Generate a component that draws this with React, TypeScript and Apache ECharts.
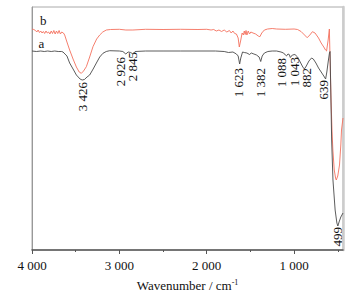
import React, { useEffect, useRef } from "react";
import * as echarts from "echarts";

// Wavenumber (cm-1) and transmittance (a.u.)
const waveA = [4000,3950,3900,3860,3820,3780,3740,3700,3660,3645,3600,3569,3530,3492,3450,3426,3400,3370,3340,3300,3263,3225,3188,3150,3111,3000,2960,2926,2900,2870,2845,2820,2700,2500,2300,2100,1900,1800,1750,1700,1660,1640,1623,1610,1590,1570,1540,1510,1490,1460,1430,1400,1382,1365,1340,1300,1250,1200,1150,1120,1100,1088,1070,1055,1043,1020,990,960,930,900,882,860,830,800,780,750,720,690,660,639,625,610,595,588,580,570,555,530,510,499,485,465,440];
const transA = [199,198.5,199,198.5,199,198.5,199,198.5,198.5,198,194,187,181,175,171,170,170.5,173,175,181,187,193,196.7,198.5,199.3,199,198.5,196,198,197.5,196,198.5,199,199,199,199,199,198.5,197.5,198,196,194,186,192,198,197.5,197,195.5,197,196,195,193,188.5,194,197,198.5,199,199,198,197,195,194,196,195.5,192.5,195,195.5,193,188,183,181,184,189,192,191,187,182,178,174,171,178,188,197,198.5,160,110,70,40,27,24,28,33,37];

const waveB = [4000,3980,3960,3945,3930,3915,3900,3885,3870,3855,3840,3825,3810,3795,3780,3765,3750,3735,3720,3705,3690,3675,3660,3640,3626,3600,3569,3530,3492,3460,3435,3410,3378,3340,3302,3260,3225,3190,3149,3100,3000,2926,2845,2700,2500,2300,2100,2000,1950,1920,1890,1860,1830,1800,1770,1740,1720,1700,1680,1660,1640,1627,1610,1595,1580,1570,1560,1550,1540,1525,1510,1495,1470,1440,1410,1391,1370,1340,1303,1250,1200,1100,1000,960,920,880,850,820,790,760,720,690,660,640,628,610,596,588,577,566,556,540,525,517,500,480,465,457,440];
const transB = [221,220.5,219.5,218,220,217.5,219,217,218.5,216.5,219,217,218,216,219,216.5,219.5,216,219,216.5,219.5,216,218,217,215,208,200,191,183,178,176.7,179,183.3,193,203.3,211,215,218,220,220.5,220.7,220,220,220.7,220.5,220.7,220.5,220.7,220,220.5,219,220,218.5,220,218,219.5,217,219,216.5,216,212,203,210,217,215,219,215.5,219.5,215,219,216,218,217,216,214,213.3,217,220,221,221.5,221,220.7,221,220.5,218.5,215,212.3,215,218.3,217,212,207,203,200,199,210,221,190,150,120,100,80,72,70,74,85,105,120,132];

const majorTicks = [4000, 3000, 2000, 1000];
const minorTicks = [3500, 2500, 1500, 500];

// Peak annotations: label text, wavenumber where the label sits, transmittance of its top end
const peakLabels = ["3 426", "2 926", "2 845", "1 623", "1 382", "1 088", "1 043", "882", "639", "499"];
const peakLabelWave = [3423, 2989, 2844, 1632, 1383, 1143, 991, 857, 666, 506];
const peakLabelTrans = [168, 193, 198, 182, 182, 192, 193, 182, 170, 23];

const curveNames = ["a", "b"];
const curveNameWave = [3892, 3870];
const curveNameTrans = [207, 230];

const FONT = "Liberation Serif";

function fmt(v: number) {
  const s = String(v);
  return s.length > 3 ? s.slice(0, s.length - 3) + " " + s.slice(-3) : s;
}

export default function App() {
  const ref = useRef<HTMLDivElement>(null);
  useEffect(() => {
    if (!ref.current) return;
    const chart = echarts.init(ref.current, undefined, { renderer: "svg" });
    const grid = { left: 32, right: 21, top: 7, bottom: 48, show: true, borderColor: "#aaaaaa", borderWidth: 1 };
    chart.setOption({
      animation: false,
      backgroundColor: "#ffffff",
      textStyle: { fontFamily: FONT },
      grid,
      xAxis: [
        {
          type: "value",
          min: 440,
          max: 4000,
          inverse: true,
          name: "Wavenumber / cm{sup|-1}",
          nameLocation: "middle",
          nameGap: 28,
          nameTextStyle: {
            fontFamily: FONT,
            fontSize: 13,
            color: "#111",
            rich: {
              sup: { fontFamily: FONT, fontSize: 8, color: "#111", verticalAlign: "bottom", padding: [0, 0, 6, 0] },
            },
          },
          axisLine: { show: true, lineStyle: { color: "#555", width: 1.5 } },
          axisTick: { show: true, length: 4, customValues: majorTicks, lineStyle: { color: "#555" } },
          axisLabel: {
            customValues: majorTicks,
            formatter: (v: number) => fmt(v),
            fontFamily: FONT,
            fontSize: 13,
            color: "#111",
            margin: 9,
          },
          splitLine: { show: false },
        },
        {
          type: "value",
          min: 440,
          max: 4000,
          inverse: true,
          position: "bottom",
          axisLine: { show: false },
          axisTick: { show: true, length: 2, customValues: minorTicks, lineStyle: { color: "#555" } },
          axisLabel: { show: false },
          splitLine: { show: false },
        },
      ],
      yAxis: [
        {
          type: "value",
          min: 0,
          max: 243,
          axisLine: { show: true, lineStyle: { color: "#999", width: 1 } },
          axisTick: { show: false },
          axisLabel: { show: false },
          splitLine: { show: false },
        },
        {
          type: "value",
          min: 0,
          max: 243,
          position: "right",
          axisLine: { show: true, lineStyle: { color: "#cccccc", width: 2.5 } },
          axisTick: { show: false },
          axisLabel: { show: false },
          splitLine: { show: false },
        },
      ],
      series: [
        {
          type: "line",
          name: "a",
          data: waveA.map((w, i) => [w, transA[i]]),
          showSymbol: false,
          lineStyle: { color: "#4a4a4a", width: 0.9 },
          z: 3,
        },
        {
          type: "line",
          name: "b",
          data: waveB.map((w, i) => [w, transB[i]]),
          showSymbol: false,
          lineStyle: { color: "#f4705e", width: 0.9 },
          z: 2,
        },
      ],
    });

    const texts: any[] = [];
    peakLabels.forEach((t, i) => {
      const p = chart.convertToPixel({ xAxisIndex: 0, yAxisIndex: 0 }, [peakLabelWave[i], peakLabelTrans[i]]);
      texts.push({
        type: "text",
        x: p[0],
        y: p[1],
        rotation: Math.PI / 2,
        style: { text: t, fontFamily: FONT, fontSize: 13, fill: "#111", align: "right", verticalAlign: "middle" },
      });
    });
    curveNames.forEach((t, i) => {
      const p = chart.convertToPixel({ xAxisIndex: 0, yAxisIndex: 0 }, [curveNameWave[i], curveNameTrans[i]]);
      texts.push({
        type: "text",
        x: p[0],
        y: p[1],
        style: { text: t, fontFamily: FONT, fontSize: 13, fill: "#111", align: "center", verticalAlign: "middle" },
      });
    });
    chart.setOption({ graphic: texts });

    return () => chart.dispose();
  }, []);
  return <div ref={ref} style={{ width: 364, height: 298, position: "absolute", left: 0, top: 0 }} />;
}
